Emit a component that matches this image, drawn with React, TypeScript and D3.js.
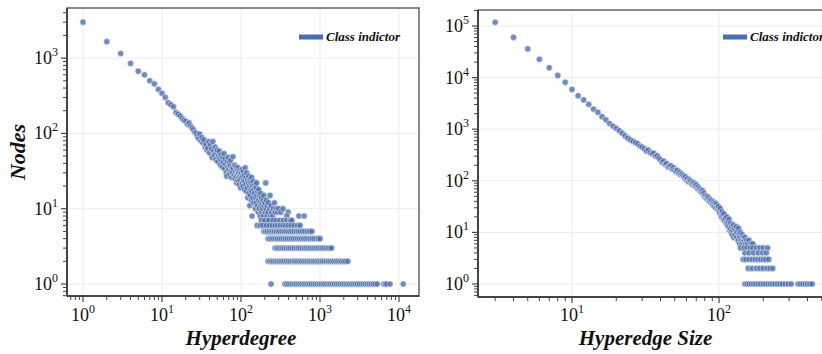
import * as d3 from 'd3'

// Hyperdegree distribution (left panel): [hyperdegree, nodes]
const degreeHead: [number, number][] = [
  [1, 3000], [2, 1650], [3, 1150], [4, 850], [5, 670], [6, 600], [7, 500], [8, 455], [9, 385], [10, 340],
  [11, 300], [12, 255], [13, 240], [14, 225], [15, 190], [16, 180], [17, 170], [18, 158], [19, 150], [20, 145],
  [21, 132], [22, 138], [23, 125], [24, 118], [25, 112], [26, 104], [27, 100], [28, 92], [29, 86], [30, 98],
  [31, 80], [32, 88], [33, 75], [34, 82], [35, 66], [36, 72], [37, 60], [38, 64], [39, 78], [40, 55],
]

const degreeBand: [number, number][] = [
  [41, 70], [42, 62], [43, 48], [44, 78], [45, 58], [46, 52], [47, 66], [48, 45], [49, 56], [50, 60],
  [51, 42], [52, 50], [53, 58], [54, 47], [55, 38], [56, 52], [57, 44], [58, 36], [59, 48], [60, 41],
  [61, 54], [62, 34], [63, 46], [64, 39], [65, 30], [66, 27], [67, 43], [68, 36], [69, 48], [70, 33],
  [71, 40], [72, 29], [73, 37], [74, 44], [75, 32], [76, 26], [77, 35], [78, 30], [79, 49], [80, 34],
  [82, 28], [83, 38], [84, 25], [85, 31], [86, 36], [87, 27], [88, 22], [89, 33], [90, 29], [91, 24],
  [92, 35], [93, 30], [94, 26], [95, 21], [96, 32], [97, 24], [98, 28], [99, 19], [100, 30], [102, 26],
  [103, 33], [104, 22], [105, 27], [106, 20], [107, 31], [108, 24], [110, 28], [111, 18], [112, 23], [113, 35],
  [115, 21], [116, 26], [117, 17], [118, 30], [120, 19], [121, 24], [122, 14], [124, 22], [125, 27], [126, 16],
  [128, 20], [129, 11], [130, 24], [131, 15], [133, 18], [134, 22], [135, 13], [136, 26], [137, 17], [138, 8],
  [140, 20], [141, 14], [143, 23], [145, 12], [146, 18], [148, 16], [150, 21], [152, 10], [153, 14], [155, 19],
  [156, 12], [158, 22], [160, 15], [162, 11], [163, 17], [165, 9], [167, 13], [168, 18], [170, 10], [172, 15],
  [174, 12], [175, 8], [177, 16], [179, 11], [181, 14], [183, 9], [185, 12], [187, 10], [190, 13], [192, 8],
  [194, 15], [196, 11], [198, 7], [200, 12], [203, 9], [205, 22], [207, 10], [210, 13], [213, 8], [215, 11],
  [218, 6], [220, 9], [223, 12], [226, 7], [230, 10], [233, 15], [236, 8], [240, 11], [244, 9], [248, 6],
  [252, 8], [256, 10], [260, 7], [265, 12], [270, 9], [280, 10], [290, 9], [300, 10], [320, 9], [340, 10],
  [395, 9], [380, 8], [540, 8], [630, 8],
]

const degreeRows: [number, number][] = [
  // nodes = 7
  [180, 7], [200, 7], [225, 7], [255, 7], [280, 7], [310, 7], [345, 7], [380, 7], [420, 7], [440, 7],
  // nodes = 6
  [160, 6], [175, 6], [190, 6], [210, 6], [230, 6], [250, 6], [270, 6], [290, 6], [315, 6], [340, 6],
  [365, 6], [395, 6], [430, 6], [470, 6], [520, 6], [560, 6],
  // nodes = 5
  [195, 5], [205, 5], [215, 5], [228, 5], [240, 5], [252, 5], [265, 5], [280, 5], [295, 5], [310, 5],
  [330, 5], [350, 5], [370, 5], [392, 5], [415, 5], [440, 5], [470, 5], [500, 5], [530, 5], [560, 5],
  [600, 5], [640, 5], [690, 5], [740, 5], [790, 5],
  // nodes = 4
  [220, 4], [232, 4], [245, 4], [260, 4], [275, 4], [290, 4], [308, 4], [325, 4], [345, 4], [365, 4],
  [385, 4], [410, 4], [435, 4], [460, 4], [490, 4], [520, 4], [550, 4], [585, 4], [620, 4], [660, 4],
  [700, 4], [745, 4], [790, 4], [840, 4], [895, 4], [950, 4], [1000, 4],
  // nodes = 3
  [270, 3], [285, 3], [300, 3], [318, 3], [336, 3], [355, 3], [375, 3], [398, 3], [420, 3], [445, 3],
  [470, 3], [500, 3], [530, 3], [560, 3], [595, 3], [630, 3], [665, 3], [705, 3], [745, 3], [790, 3],
  [840, 3], [890, 3], [940, 3], [1000, 3], [1060, 3], [1120, 3], [1190, 3], [1260, 3], [1330, 3], [1400, 3],
  // nodes = 2
  [220, 2], [232, 2], [245, 2], [258, 2], [272, 2], [288, 2], [304, 2], [320, 2], [338, 2], [357, 2],
  [377, 2], [398, 2], [420, 2], [445, 2], [470, 2], [495, 2], [525, 2], [555, 2], [585, 2], [620, 2],
  [655, 2], [690, 2], [730, 2], [770, 2], [815, 2], [860, 2], [910, 2], [960, 2], [1015, 2], [1070, 2],
  [1130, 2], [1200, 2], [1270, 2], [1340, 2], [1420, 2], [1500, 2], [1590, 2], [1680, 2], [1780, 2], [1880, 2],
  [1990, 2], [2100, 2], [2250, 2],
  // nodes = 1
  [240, 1], [360, 1], [380, 1], [400, 1], [425, 1], [450, 1], [475, 1], [500, 1], [530, 1], [560, 1],
  [590, 1], [625, 1], [660, 1], [700, 1], [740, 1], [780, 1], [825, 1], [870, 1], [920, 1], [975, 1],
  [1030, 1], [1090, 1], [1150, 1], [1220, 1], [1290, 1], [1360, 1], [1440, 1], [1520, 1], [1610, 1], [1700, 1],
  [1800, 1], [1900, 1], [2010, 1], [2130, 1], [2250, 1], [2380, 1], [2520, 1], [2660, 1], [2820, 1], [2980, 1],
  [3150, 1], [3340, 1], [3530, 1], [3730, 1], [3950, 1], [4180, 1], [4420, 1], [4680, 1], [4950, 1], [5300, 1],
  [6400, 1], [6700, 1], [7000, 1], [7700, 1], [11300, 1],
]

// Hyperedge size distribution (right panel): [size, hyperedges]
const sizeHead: [number, number][] = [
  [3, 118000], [4, 60000], [5, 36000], [6, 22600], [7, 15500], [8, 11000], [9, 8100], [10, 5900],
  [11, 4450], [12, 3700], [13, 3030], [14, 2450], [15, 2130], [16, 1750], [17, 1520], [18, 1290], [19, 1150], [20, 1040],
  [21, 930], [22, 830], [23, 740], [24, 670], [25, 620], [26, 580], [27, 550], [28, 520], [29, 470], [30, 450],
  [31, 420], [32, 380], [33, 395], [34, 350], [35, 335], [36, 340], [37, 300], [38, 305], [39, 275], [40, 255],
  [41, 230], [42, 240], [43, 210], [44, 215], [45, 185], [46, 190], [47, 195], [48, 170], [49, 180], [50, 160],
  [51, 152], [52, 160], [53, 140], [54, 145], [55, 130], [56, 135], [57, 125], [58, 116], [59, 120], [60, 104],
  [61, 110], [62, 96], [63, 104], [64, 98], [65, 90], [66, 85], [67, 92], [68, 82], [69, 78], [70, 84],
  [71, 72], [72, 76], [73, 68], [74, 70], [75, 64], [76, 60], [77, 65], [78, 56], [79, 58], [80, 49],
  [81, 52], [82, 46], [83, 50], [84, 44], [85, 47], [86, 40], [87, 43], [88, 38], [89, 41], [90, 36],
  [91, 34], [92, 39], [93, 32], [94, 37], [95, 30], [96, 35], [97, 31], [98, 28], [99, 32], [100, 26],
  [101, 24], [102, 29], [103, 22], [104, 20], [105, 25], [106, 21], [107, 18], [108, 23], [109, 17], [110, 19],
  [112, 15], [113, 20], [114, 14], [115, 16], [116, 13], [117, 18], [118, 11], [119, 12], [120, 15], [121, 10],
  [122, 13], [123, 9], [124, 11], [125, 14], [126, 8], [127, 12], [128, 9], [130, 11], [131, 13], [132, 8],
  [133, 10], [135, 7], [136, 12], [137, 9], [138, 6], [139, 8], [140, 10], [142, 7], [143, 6], [144, 9],
  [146, 8], [147, 6], [148, 7], [150, 8], [152, 6], [154, 7], [156, 6], [160, 7], [165, 6], [170, 6],
]

const sizeRows: [number, number][] = [
  [140, 5], [148, 5], [155, 5], [163, 5], [170, 5], [180, 5], [190, 5], [200, 5], [214, 5],
  [150, 4], [160, 4], [172, 4], [185, 4], [198, 4], [210, 4],
  [146, 3], [152, 3], [160, 3], [168, 3], [176, 3], [184, 3], [192, 3], [200, 3], [208, 3], [218, 3],
  [158, 2], [168, 2], [180, 2], [190, 2], [200, 2], [212, 2], [222, 2], [232, 2],
  [150, 1], [155, 1], [160, 1], [166, 1], [172, 1], [178, 1], [185, 1], [192, 1], [200, 1], [208, 1],
  [216, 1], [224, 1], [232, 1], [240, 1], [250, 1], [260, 1], [270, 1], [282, 1], [295, 1], [310, 1],
  [345, 1], [358, 1], [372, 1], [386, 1], [400, 1], [415, 1], [430, 1],
]

const degreeTickExps = [0, 1, 2, 3, 4]
const nodeTickExps = [0, 1, 2, 3]
const sizeTickExps = [1, 2]
const edgeTickExps = [0, 1, 2, 3, 4, 5]

const legendLabel = 'Class indictor'
const DOT = '#4a6aa8'
const SERIF = '"Liberation Serif", "Times New Roman", serif'

type PanelProps = {
  x0: number
  x1: number
  y0: number
  y1: number
  xDomain: [number, number]
  yDomain: [number, number]
  xExps: number[]
  yExps: number[]
  points: [number, number][]
  xTitle: string
  yTitle?: string
  legendX: number
}

function Panel({ x0, x1, y0, y1, xDomain, yDomain, xExps, yExps, points, xTitle, yTitle, legendX }: PanelProps) {
  const x = d3.scaleLog().domain(xDomain).range([x0, x1])
  const y = d3.scaleLog().domain(yDomain).range([y1, y0])
  const isMajor = (v: number) => Math.abs(Math.log10(v) - Math.round(Math.log10(v))) < 1e-6
  const xMinor = x.ticks().filter((v) => !isMajor(v) && x(v) >= x0 && x(v) <= x1)
  const yMinor = y.ticks().filter((v) => !isMajor(v) && y(v) >= y0 && y(v) <= y1)
  const clipId = `clip-${x0}`
  return (
    <g>
      <defs>
        <clipPath id={clipId}>
          <rect x={x0} y={y0} width={x1 - x0} height={y1 - y0} />
        </clipPath>
      </defs>
      {/* grid */}
      {xExps.map((e) => (
        <line key={'gx' + e} x1={x(10 ** e)} x2={x(10 ** e)} y1={y0} y2={y1} stroke="#ececec" strokeWidth={1} />
      ))}
      {yExps.map((e) => (
        <line key={'gy' + e} x1={x0} x2={x1} y1={y(10 ** e)} y2={y(10 ** e)} stroke="#ececec" strokeWidth={1} />
      ))}
      {/* points */}
      <g clipPath={`url(#${clipId})`}>
        {points.map((d, i) => (
          <circle
            key={i}
            cx={x(d[0])}
            cy={y(d[1])}
            r={3.1}
            fill={DOT}
            fillOpacity={0.78}
            stroke="#e6ecf6"
            strokeWidth={0.6}
          />
        ))}
      </g>
      {/* legend */}
      <rect x={legendX} y={34.5} width={24} height={5} fill="#4a6cb0" />
      <text
        x={legendX + 27}
        y={41}
        fontFamily={SERIF}
        fontSize={13}
        fontWeight="bold"
        fontStyle="italic"
        fill="#111"
      >
        {legendLabel}
      </text>
      {/* frame */}
      <rect x={x0} y={y0} width={x1 - x0} height={y1 - y0} fill="none" stroke="#666" strokeWidth={1.5} />
      <line x1={x0} x2={x0} y1={y0} y2={y1} stroke="#444" strokeWidth={2} />
      <line x1={x0} x2={x1} y1={y1} y2={y1} stroke="#444" strokeWidth={2} />
      {/* x ticks */}
      {xMinor.map((v, i) => (
        <line key={'xm' + i} x1={x(v)} x2={x(v)} y1={y1} y2={y1 + 4} stroke="#444" strokeWidth={1} />
      ))}
      {xExps.map((e) => (
        <g key={'xt' + e}>
          <line x1={x(10 ** e)} x2={x(10 ** e)} y1={y1} y2={y1 + 6} stroke="#444" strokeWidth={1.2} />
          <text x={x(10 ** e)} y={321} textAnchor="middle" fontFamily={SERIF} fontSize={18} fill="#111">
            10<tspan fontSize={12} dy={-8}>{e}</tspan>
          </text>
        </g>
      ))}
      {/* y ticks */}
      {yMinor.map((v, i) => (
        <line key={'ym' + i} x1={x0 - 4} x2={x0} y1={y(v)} y2={y(v)} stroke="#444" strokeWidth={1} />
      ))}
      {yExps.map((e) => (
        <g key={'yt' + e}>
          <line x1={x0 - 6} x2={x0} y1={y(10 ** e)} y2={y(10 ** e)} stroke="#444" strokeWidth={1.2} />
          <text x={x0 - 9} y={y(10 ** e) + 6} textAnchor="end" fontFamily={SERIF} fontSize={18} fill="#111">
            10<tspan fontSize={12} dy={-8}>{e}</tspan>
          </text>
        </g>
      ))}
      {/* titles */}
      <text
        x={(x(10 ** xExps[0]) + x(10 ** xExps[xExps.length - 1])) / 2}
        y={345}
        textAnchor="middle"
        fontFamily={SERIF}
        fontSize={21}
        fontWeight="bold"
        fontStyle="italic"
        fill="#111"
      >
        {xTitle}
      </text>
      {yTitle && (
        <text
          transform={`translate(25,${(y0 + y1) / 2}) rotate(-90)`}
          textAnchor="middle"
          fontFamily={SERIF}
          fontSize={22}
          fontWeight="bold"
          fontStyle="italic"
          fill="#111"
        >
          {yTitle}
        </text>
      )}
    </g>
  )
}

export default function App() {
  const degreePoints = [...degreeHead, ...degreeBand, ...degreeRows]
  const sizePoints = [...sizeHead, ...sizeRows]
  return (
    <svg width={822} height={354} style={{ position: 'absolute', left: 0, top: 0, background: '#fff' }}>
      <Panel
        x0={67}
        x1={419}
        y0={8}
        y1={296}
        xDomain={[10 ** -0.2025, 10 ** 4.253]}
        yDomain={[10 ** -0.159, 10 ** 3.665]}
        xExps={degreeTickExps}
        yExps={nodeTickExps}
        points={degreePoints}
        xTitle="Hyperdegree"
        yTitle="Nodes"
        legendX={299}
      />
      <Panel
        x0={478}
        x1={835}
        y0={10}
        y1={297}
        xDomain={[10 ** 0.3605, 10 ** 2.789]}
        yDomain={[10 ** -0.252, 10 ** 5.31]}
        xExps={sizeTickExps}
        yExps={edgeTickExps}
        points={sizePoints}
        xTitle="Hyperedge Size"
        legendX={723}
      />
    </svg>
  )
}
